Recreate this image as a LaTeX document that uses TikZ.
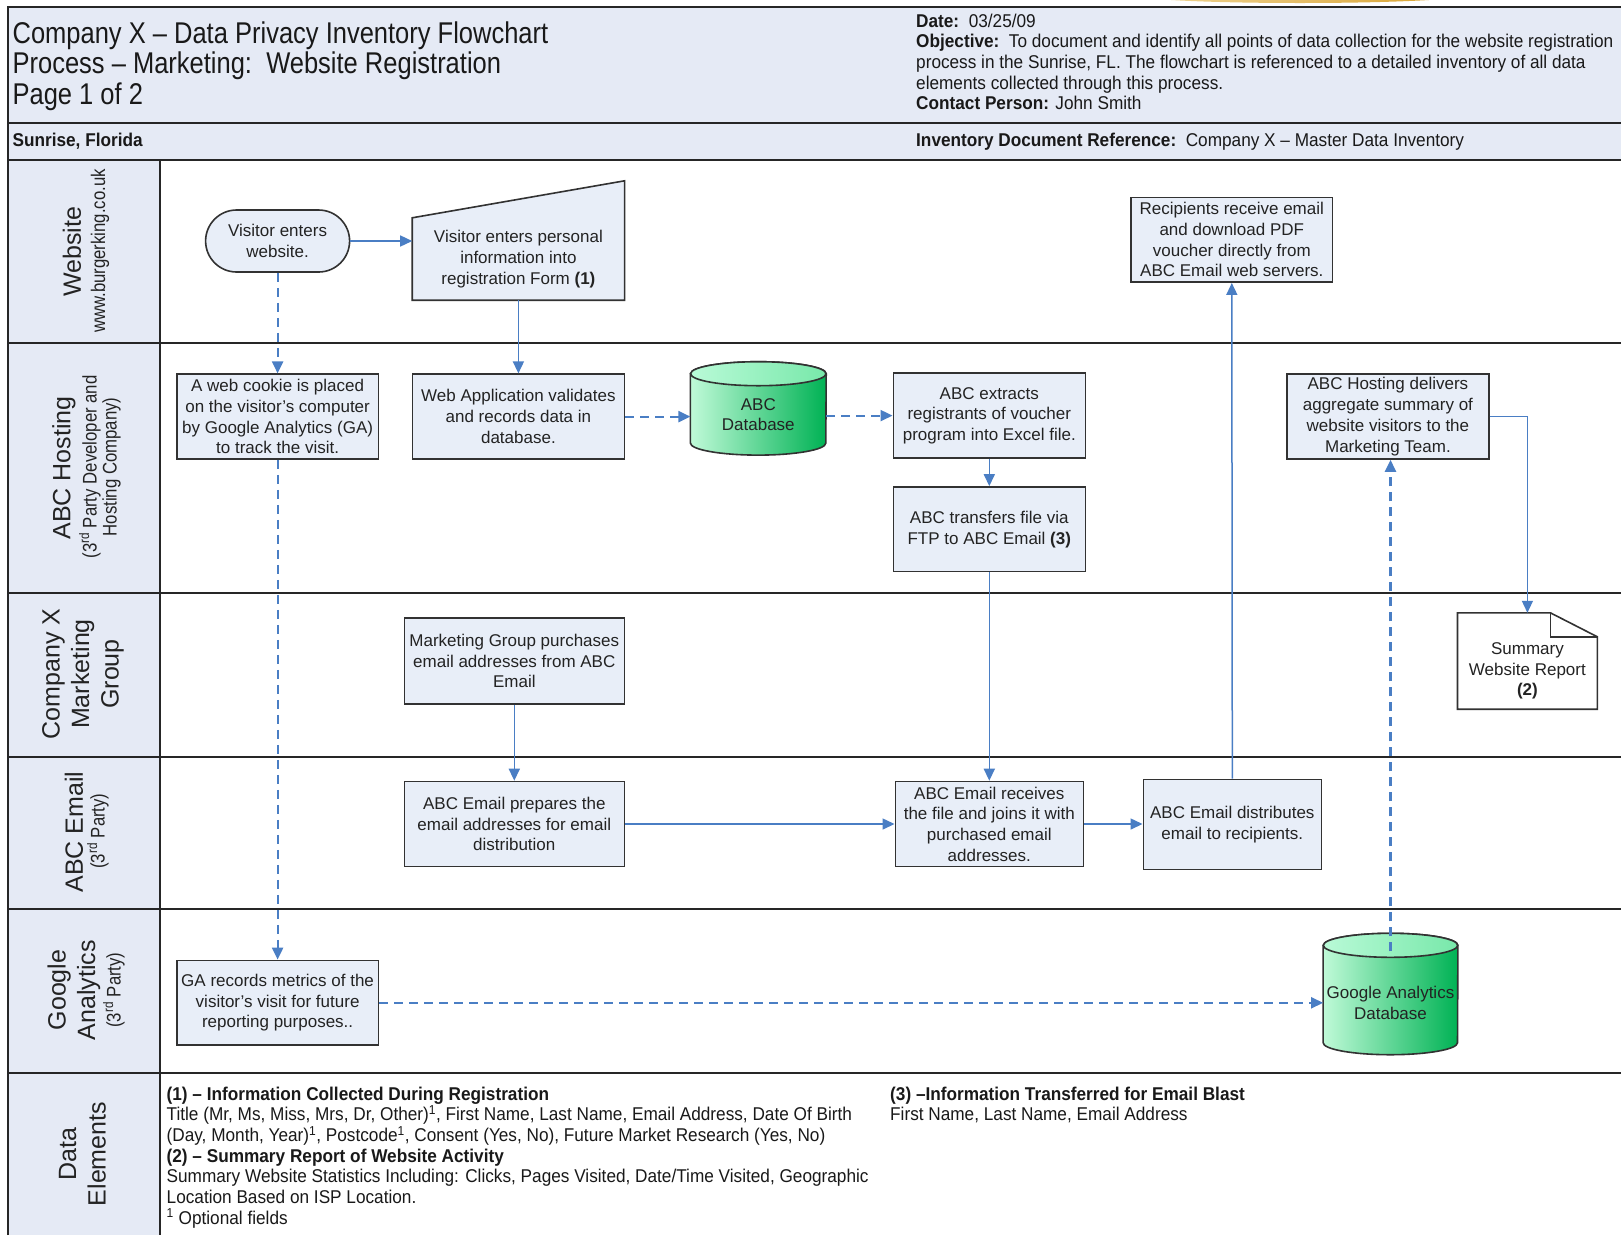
\documentclass[tikz,border=0pt]{standalone}
\usepackage{fontspec}
\setmainfont{Liberation Sans}
\newfontfamily\narrowfont[FakeStretch=0.85,Ligatures=TeX]{Liberation Sans}
\newfontfamily\hdrfamily[FakeStretch=0.93,Ligatures=TeX]{Liberation Sans}
\usetikzlibrary{arrows.meta}
\pgfdeclarelayer{back}
\pgfdeclarelayer{bg}
\pgfsetlayers{back,bg,main}

\definecolor{boxfill}{RGB}{232,238,248}
\definecolor{headfill}{RGB}{229,234,245}
\definecolor{boxline}{RGB}{50,50,50}
\definecolor{flow}{RGB}{74,126,196}
\definecolor{cylL}{RGB}{192,250,216}
\definecolor{cylR}{RGB}{0,178,84}
\definecolor{cylTopL}{RGB}{185,250,215}
\definecolor{cylTopR}{RGB}{120,232,170}
\definecolor{txt}{RGB}{35,35,35}
\definecolor{goldA}{RGB}{240,215,150}
\definecolor{goldB}{RGB}{215,160,40}

\newcommand\bxfont{\fontsize{17}{20.7}\selectfont}
\newcommand\lanetitlefont{\fontsize{25}{29.5}\selectfont}
\newcommand\lanesubfont{\narrowfont\fontsize{19.7}{20}\selectfont}
\newcommand\hdrfont{\hdrfamily\fontsize{18.5}{20.7}\selectfont}
\newcommand\titlefont{\narrowfont\fontsize{30}{30.5}\selectfont}

\tikzset{
  box/.style={draw=boxline, line width=1.6pt, fill=boxfill, align=center,
    inner sep=0pt, font=\bxfont, text=txt},
  shapeonly/.style={inner sep=0pt, align=center, font=\bxfont, text=txt},
  outline/.style={draw=boxline, line width=1.6pt},
  frame/.style={draw=black!85, line width=2pt},
  flw/.style={draw=flow, line width=1.5pt, -{Triangle[length=12pt,width=11pt]}},
  flwd/.style={flw, line width=2.2pt, dash pattern=on 9pt off 6pt},
  lanetitle/.style={rotate=90, align=center, inner sep=0pt, font=\lanetitlefont, text=txt},
  lanesub/.style={rotate=90, align=center, inner sep=0pt, font=\lanesubfont, text=txt},
  hdr/.style={anchor=base west, inner sep=0pt, font=\hdrfont, text=black!90},
}

\newcommand\dbcyl[2]{% node name, x radius
  \path[left color=cylL, right color=cylR, outline]
    ([yshift=-12pt]#1.north west) -- ([yshift=12pt]#1.south west)
    arc[start angle=180, end angle=360, x radius=#2, y radius=12pt]
    -- ([yshift=-12pt]#1.north east)
    arc[start angle=0, end angle=180, x radius=#2, y radius=12pt] -- cycle;
  \path[left color=cylTopL, right color=cylTopR, outline]
    ([yshift=-12pt]#1.north) ellipse [x radius=#2, y radius=12pt];
}

\begin{document}
\begin{tikzpicture}[x=1pt,y=-1pt]
\useasboundingbox (0,0) rectangle (1621,1235);

\begin{pgfonlayer}{back}
\fill[white] (0,0) rectangle (1621,1235);
% gold sliver at the top edge
\shade[left color=goldA, right color=goldB, middle color=goldB!70!white] (1300,-5) ellipse [x radius=165pt, y radius=8pt];
% backgrounds
\fill[headfill] (8.3,7.2) rectangle (1621,160);
\fill[headfill] (8.3,160) rectangle (160,1235);
% frame
\draw[frame] (8.3,1235) -- (8.3,7.2) -- (1621,7.2);
\draw[frame] (8.3,123) -- (1621,123);
\draw[frame] (8.3,160) -- (1621,160);
\foreach \yy in {343,593,757,909,1073} \draw[frame] (8.3,\yy) -- (1621,\yy);
\draw[frame] (160,160) -- (160,1235);
\end{pgfonlayer}

% header
\node[hdr, font=\titlefont] (t1) at (12.4,43.8) {Company X – Data Privacy Inventory Flowchart};
\node[hdr, font=\titlefont] (t2) at (12.4,73.8) {Process – Marketing:\ \ Website Registration};
\node[hdr, font=\titlefont] (t3) at (12.4,104.8) {Page 1 of 2};
\node[hdr] (h1) at (916,27) {\textbf{Date:}\ \ 03/25/09};
\node[hdr] (h2) at (916,47.7) {\textbf{Objective:}\ \ To document and identify all points of data collection for the website registration};
\node[hdr] (h3) at (916,68.3) {process in the Sunrise, FL. The flowchart is referenced to a detailed inventory of all data};
\node[hdr] (h4) at (916,89) {elements collected through this process.};
\node[hdr] (h5) at (916,109.7) {\textbf{Contact Person:} John Smith};
\node[hdr] (s1) at (12.4,146.9) {\textbf{Sunrise, Florida}};
\node[hdr] (s2) at (916,146.9) {\textbf{Inventory Document Reference:}\ \ Company X – Master Data Inventory};

% lane labels
\node[lanetitle] (lWeb) at (72,252) {Website};
\node[lanesub] (lWebS) at (100,251) {www.burgerking.co.uk};
\node[lanetitle] (lHost) at (64,468) {ABC Hosting};
\node[lanesub] (lHostS) at (100,467) {(3\textsuperscript{rd} Party Developer and\\Hosting Company)};
\node[lanetitle] (lMkt) at (83,674) {Company X\\Marketing\\Group};
\node[lanetitle] (lEm) at (74,832) {ABC Email};
\node[lanesub] (lEmS) at (98,831) {(3\textsuperscript{rd} Party)};
\node[lanetitle] (lGA) at (74,990) {Google\\Analytics};
\node[lanesub] (lGAS) at (114,990) {(3\textsuperscript{rd} Party)};
\node[lanetitle] (lDE) at (82.5,1154) {Data\\Elements};

% process nodes
\node[box, minimum width=144pt, minimum height=62pt, rounded corners=31pt] (start) at (277.6,241) {Visitor enters\\website.};
\node[shapeonly, minimum width=212pt, minimum height=82pt] (form) at (518.4,259) {Visitor enters personal\\information into\\registration Form \textbf{(1)}};
\node[box, minimum width=201.6pt, minimum height=84.8pt] (cookie) at (277.6,416.6) {A web cookie is placed\\on the visitor's computer\\by Google Analytics (GA)\\to track the visit.};
\node[box, minimum width=212pt, minimum height=84.8pt] (webapp) at (518.4,416.6) {Web Application validates\\and records data in\\database.};
\node[shapeonly, minimum width=135.4pt, minimum height=93pt] (abcdb) at (758.3,408.4) {};
\node[shapeonly] (abcdbText) at (758.3,414.6) {ABC\\Database};
\node[box, minimum width=192pt, minimum height=85pt] (extract) at (989.3,415.6) {ABC extracts\\registrants of voucher\\program into Excel file.};
\node[box, minimum width=192pt, minimum height=84.7pt] (transfer) at (989.3,529.3) {ABC transfers file via\\FTP to ABC Email \textbf{(3)}};
\node[box, minimum width=201.6pt, minimum height=84.7pt] (recip) at (1231.8,239.8) {Recipients receive email\\and download PDF\\voucher directly from\\ABC Email web servers.};
\node[box, minimum width=201.6pt, minimum height=84.8pt] (host) at (1387.9,416.6) {ABC Hosting delivers\\aggregate summary of\\website visitors to the\\Marketing Team.};
\node[shapeonly, minimum width=139.5pt, minimum height=96pt] (rep) at (1527.4,661) {};
\node[shapeonly] (repText) at (1527.4,671) {Summary\\Website Report\\\textbf{(2)}};
\node[box, minimum width=220pt, minimum height=86pt] (mkt) at (514.3,661.1) {Marketing Group purchases\\email addresses from ABC\\Email};
\node[box, minimum width=220pt, minimum height=85pt] (prep) at (514.3,824) {ABC Email prepares the\\email addresses for email\\distribution};
\node[box, minimum width=188pt, minimum height=85pt] (recv) at (989.3,824) {ABC Email receives\\the file and joins it with\\purchased email\\addresses.};
\node[box, minimum width=178pt, minimum height=90pt] (dist) at (1232.3,824.5) {ABC Email distributes\\email to recipients.};
\node[box, minimum width=201.6pt, minimum height=84.8pt] (garec) at (277.6,1002.8) {GA records metrics of the\\visitor's visit for future\\reporting purposes..};
\node[shapeonly, minimum width=134.4pt, minimum height=121pt] (gadb) at (1390.5,994) {};
\node[shapeonly] (gadbText) at (1390.5,1003) {Google Analytics\\Database};

% special shapes behind the texts
\begin{pgfonlayer}{bg}
  \path[fill=boxfill, outline] (form.north west) -- ([yshift=37pt]form.north east)
    -- (form.south east) -- (form.south west) -- cycle;
  \dbcyl{abcdb}{67.7pt}
  \dbcyl{gadb}{67.2pt}
  \path[fill=white, outline] (rep.north west) -- ([xshift=-47pt]rep.north east)
    -- ([yshift=-24pt]rep.north east) -- (rep.south east) -- (rep.south west) -- cycle;
  \draw[outline] ([xshift=-47pt]rep.north east) -- ([xshift=-47pt,yshift=-24pt]rep.north east)
    -- ([yshift=-24pt]rep.north east);
\end{pgfonlayer}

% connectors
\draw[flw] (start.east) -- (start.east -| form.west);
\draw[flwd] (start.south) -- (cookie.north);
\draw[flwd] (cookie.south) -- (garec.north);
\draw[flw] (form.south) -- (webapp.north);
\draw[flwd] (webapp.east) -- (webapp.east -| abcdb.west);
\draw[flwd] (extract.west -| abcdb.east) -- (extract.west);
\draw[flw] (extract.south) -- (transfer.north);
\draw[flw] (transfer.south) -- (recv.north);
\draw[flw] (mkt.south) -- (prep.north);
\draw[flw] (prep.east) -- (recv.west);
\draw[flw] (recv.east) -- (recv.east -| dist.west);
\draw[flw] (dist.north) -- (recip.south);
\draw[flwd] (garec.east) -- (garec.east -| gadb.west);
\draw[flwd] ([yshift=-18pt]gadb.north) -- (host.south -| gadb.north);
\draw[flw] (host.east) -| (rep.north);

% data elements
\node[hdr] (d1) at (166.5,1100.1) {\textbf{(1) – Information Collected During Registration}};
\node[hdr] (d2) at (166.5,1120.7) {Title (Mr, Ms, Miss, Mrs, Dr, Other)\textsuperscript{1}, First Name, Last Name, Email Address, Date Of Birth};
\node[hdr] (d3) at (166.5,1141.4) {(Day, Month, Year)\textsuperscript{1}, Postcode\textsuperscript{1}, Consent (Yes, No), Future Market Research (Yes, No)};
\node[hdr] (d4) at (166.5,1162.1) {\textbf{(2) – Summary Report of Website Activity}};
\node[hdr] (d5) at (166.5,1182.8) {Summary Website Statistics Including: Clicks, Pages Visited, Date/Time Visited, Geographic};
\node[hdr] (d6) at (166.5,1203.5) {Location Based on ISP Location.};
\node[hdr] (d7) at (166.5,1224.1) {\textsuperscript{1} Optional fields};
\node[hdr] (e1) at (890,1100.1) {\textbf{(3) –Information Transferred for Email Blast}};
\node[hdr] (e2) at (890,1120.7) {First Name, Last Name, Email Address};
\end{tikzpicture}
\end{document}
